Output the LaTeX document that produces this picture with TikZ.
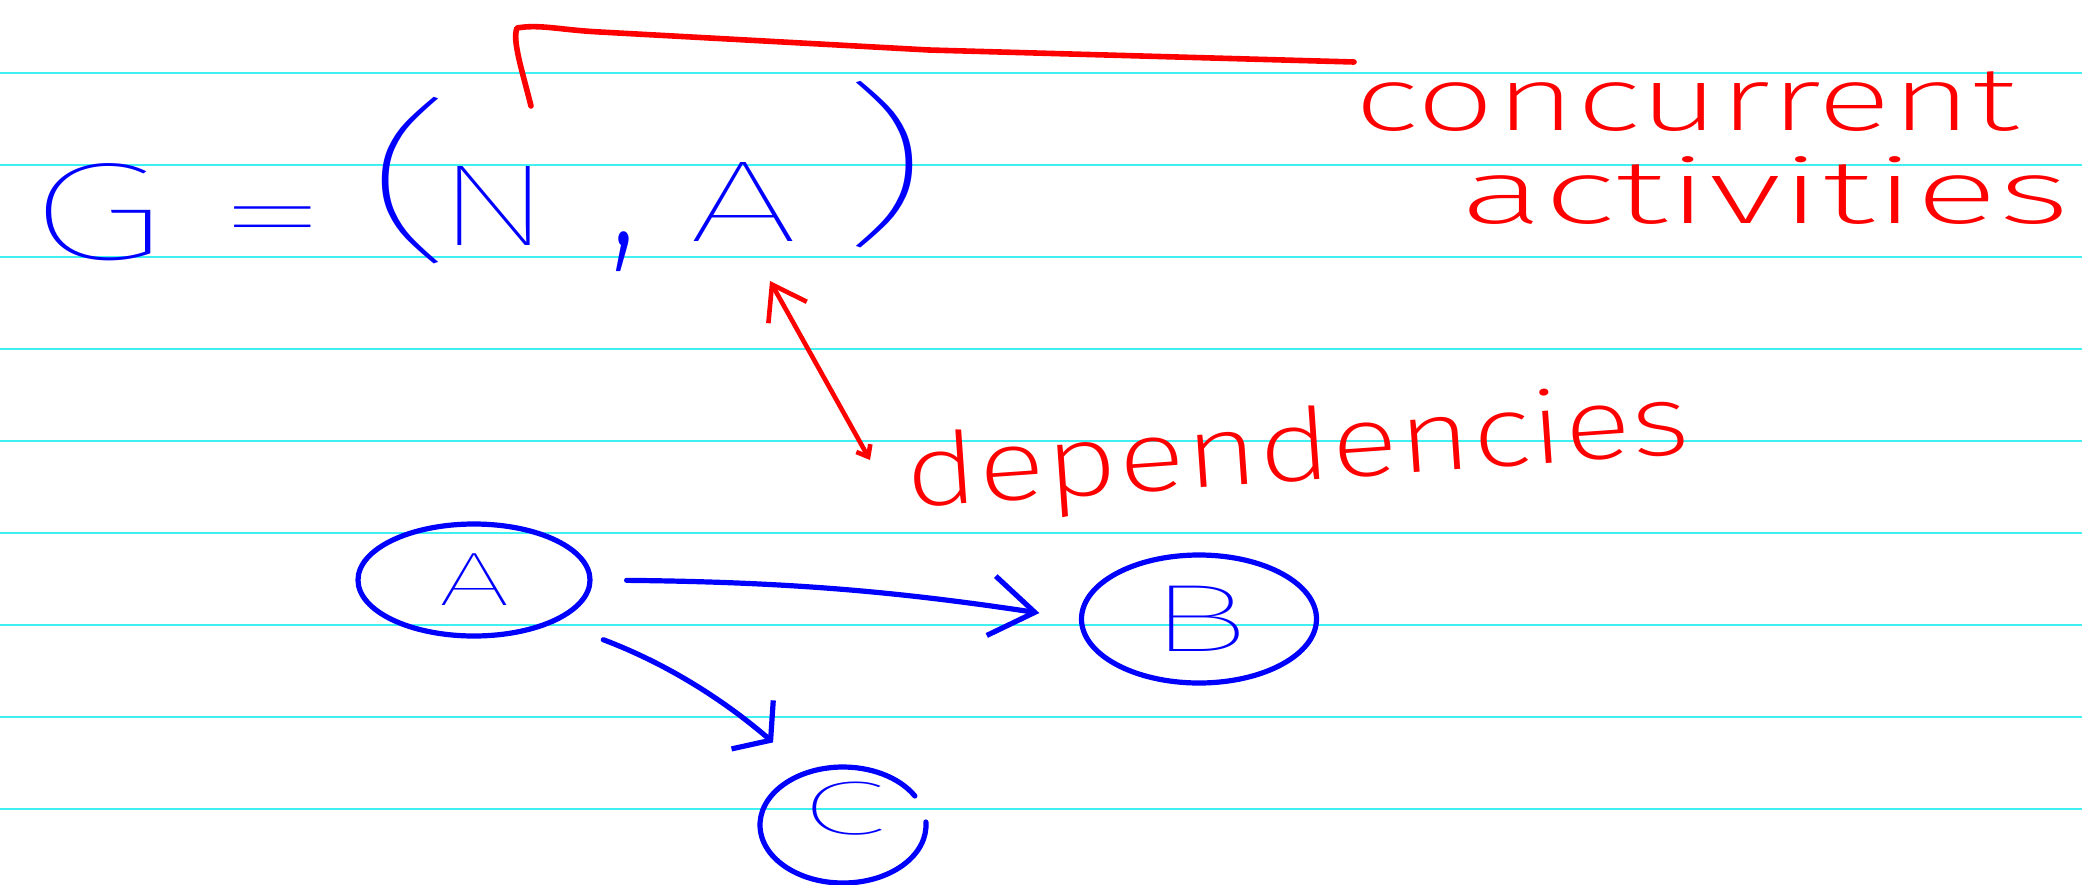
\documentclass[tikz,border=0pt]{standalone}
\usepackage{fontspec}
\newfontfamily\hand{Fira Sans ExtraLight}
\newfontfamily\thinhand{Fira Sans Thin}
\usetikzlibrary{arrows.meta,shapes.geometric}
\definecolor{rule}{RGB}{64,240,240}
\definecolor{ink}{RGB}{0,0,255}
\definecolor{pen}{RGB}{255,0,0}
\newcommand\penfs[1]{\fontsize{#1}{#1}\selectfont}

\begin{document}
\begin{tikzpicture}[x=0.5pt,y=-0.5pt,
  ruled/.style={draw=rule,line width=1pt},
  blueink/.style={text=ink,inner sep=0pt},
  redink/.style={text=pen,inner sep=0pt},
  stroke/.style={draw=ink,line width=2.6pt,line cap=round,line join=round},
  redstroke/.style={draw=pen,line width=2.3pt,line cap=round,line join=round},
  vertex/.style={ellipse,stroke,inner sep=0pt,text=ink},
  bluearrow/.style={stroke,-{Straight Barb[length=22pt,width=30pt]}},
  redarrow/.style={redstroke,{Straight Barb[length=16pt,width=22pt]}-{Straight Barb[length=5pt,width=8pt]}},
]
% paper and ruling
\fill[white] (0,0) rectangle (2082,884);
\useasboundingbox (0,0) rectangle (2082,884);
\foreach \k in {0,...,8} \draw[ruled] (0,73+92*\k) -- (2082,73+92*\k);

% G = (N, A)
\node[blueink,font=\thinhand\penfs{62}] (G) at (98,212) {\scalebox{1.85}[1.12]{G}};
\node[blueink,font=\thinhand\penfs{58}] (eq) at (273,231) {\scalebox{2}[1]{=}};
\node[blueink,font=\thinhand\penfs{58}] (lp) at (411,181) {\scalebox{2.6}[1.5]{(}};
\node[blueink,font=\thinhand\penfs{58}] (nN) at (494,206) {\scalebox{1.5}[1]{N}};
\node[blueink,font=\hand\penfs{58}] (cm) at (624,252) {\scalebox{1.1}[1.6]{,}};
\node[blueink,font=\thinhand\penfs{58}] (nA) at (743,202) {\scalebox{1.7}[1]{A}};
\node[blueink,font=\thinhand\penfs{58}] (rp) at (884,165) {\scalebox{2.6}[1.5]{)}};

% annotations
\node[redink,font=\hand,anchor=base west] (conc) at (1354,130)
  {\resizebox{332pt}{\height}{\penfs{45}concurrent}};
\node[redink,font=\hand,anchor=base west] (act) at (1460,223)
  {\resizebox{305pt}{\height}{\penfs{45}activities}};
\node[redink,font=\hand,anchor=base west,rotate=4] (dep) at (907,508)
  {\resizebox{393pt}{\height}{\penfs{50}dependencies}};

% bracket over (N, A) leading to the note
\coordinate (brkFoot) at (531,106);
\coordinate (brkEnd) at (1354,62);
\draw[redstroke,line width=2.8pt] (brkFoot) .. controls (522,70) and (512,40) .. (517,28)
  .. controls (540,24) and (560,30) .. (600,32) -- (929,50) -- (brkEnd);

% arrow between A and the note
\coordinate (aFoot) at (770,281);
\coordinate (depHook) at (870,460);
\draw[redarrow] (aFoot) -- (depHook);

% dependency graph
\node[vertex,minimum width=116pt,minimum height=56pt,font=\thinhand\penfs{38}] (A) at (474,580) {\scalebox{1.7}[1]{A}};
\node[vertex,minimum width=117.5pt,minimum height=64pt,font=\thinhand\penfs{48}] (B) at (1199,619) {\scalebox{1.8}[1]{B}};
\node[vertex,draw=none,minimum width=83pt,minimum height=58pt,font=\thinhand\penfs{38}] (C) at (843,825) {\raisebox{17pt}{\scalebox{2.1}[1]{C}}};
\draw[stroke] (C.center) ++(-3:83 and 58) arc[start angle=-3,end angle=330,x radius=83,y radius=58];

\draw[bluearrow,shorten <=17pt,shorten >=20pt] (A.east) to[bend left=4] (B.west);
\draw[stroke,-{Straight Barb[length=12pt,width=32pt]},shorten <=25pt,shorten >=20pt] (A.-27) to[bend left=10] (C.125);
\end{tikzpicture}
\end{document}
